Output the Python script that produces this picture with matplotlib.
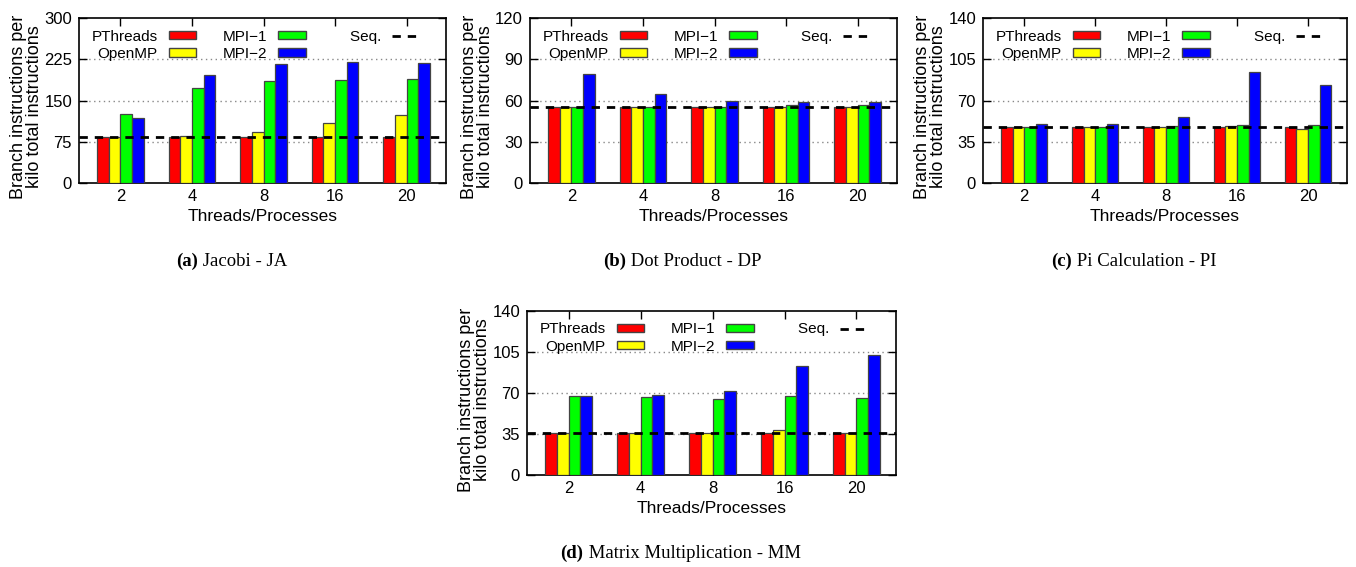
import numpy as np
import matplotlib
matplotlib.use("Agg")
import matplotlib.pyplot as plt
from matplotlib.patches import Patch
from matplotlib.lines import Line2D

threads = ["2", "4", "8", "16", "20"]
series = ["PThreads", "OpenMP", "MPI\u22121", "MPI\u22122"]
colors = ["#ff0000", "#ffff00", "#00ff00", "#0000ff"]

# Jacobi - JA
ja_pthreads = [83, 83, 83, 83, 83]
ja_openmp = [84, 86, 92, 110, 124]
ja_mpi1 = [126, 172, 185, 188, 189]
ja_mpi2 = [118, 196, 216, 220, 218]
ja_seq = 84

# Dot Product - DP
dp_pthreads = [55.3, 55.3, 55.3, 55.3, 55.3]
dp_openmp = [55.3, 55.3, 55.3, 55.3, 55.5]
dp_mpi1 = [55.5, 55.5, 55.6, 56.4, 56.5]
dp_mpi2 = [79.4, 64.6, 59.5, 58.6, 58.8]
dp_seq = 55.4

# Pi Calculation - PI
pi_pthreads = [47.5, 47.5, 47.5, 47.5, 47.5]
pi_openmp = [47.5, 47.5, 47.5, 48.7, 45.6]
pi_mpi1 = [47.5, 47.6, 48.0, 48.8, 49.6]
pi_mpi2 = [50.2, 50.2, 55.8, 94.0, 83.0]
pi_seq = 47.6

# Matrix Multiplication - MM
mm_pthreads = [35.8, 35.8, 35.8, 35.8, 35.8]
mm_openmp = [35.8, 35.8, 35.8, 38.4, 35.8]
mm_mpi1 = [67.4, 66.8, 65.1, 67.7, 65.7]
mm_mpi2 = [67.4, 68.0, 71.4, 93.2, 102.7]
mm_seq = 35.9

panels = [
    ([ja_pthreads, ja_openmp, ja_mpi1, ja_mpi2], ja_seq, 300, 75, "(a)", "Jacobi - JA"),
    ([dp_pthreads, dp_openmp, dp_mpi1, dp_mpi2], dp_seq, 120, 30, "(b)", "Dot Product - DP"),
    ([pi_pthreads, pi_openmp, pi_mpi1, pi_mpi2], pi_seq, 140, 35, "(c)", "Pi Calculation - PI"),
    ([mm_pthreads, mm_openmp, mm_mpi1, mm_mpi2], mm_seq, 140, 35, "(d)", "Matrix Multiplication - MM"),
]

W, H = 1356, 567
# axes boxes in pixels: left, top, right, bottom
boxes = [(79, 18, 446, 183), (530, 18, 897, 183), (983, 18, 1347, 183), (527, 311, 896, 475)]

plt.rcParams['font.family'] = ['Liberation Sans', 'DejaVu Sans']
fig = plt.figure(figsize=(W / 100, H / 100), dpi=100)
renderer = fig.canvas.get_renderer()
serif = ['Liberation Serif', 'DejaVu Serif']

x = np.arange(len(threads))
bw = 0.163
dash = (0, (3, 2.5))

for (vals, seq, ymax, ystep, tag, title), (l, t, r, b) in zip(panels, boxes):
    ax = fig.add_axes([l / W, (H - b) / H, (r - l) / W, (b - t) / H])
    for i, v in enumerate(vals):
        ax.bar(x + (i - 1.5) * bw, v, bw, color=colors[i], edgecolor='#444444', linewidth=0.9, zorder=3)
    ax.axhline(seq, color='black', linestyle=dash, linewidth=2, zorder=4)
    ax.set_xlim(-0.58, 4.55)
    ax.set_ylim(0, ymax)
    yt = np.arange(0, ymax + 1, ystep)
    ax.set_yticks(yt)
    ax.set_xticks(x)
    ax.set_xticklabels(threads)
    for yv in yt[1:-1]:
        ax.axhline(yv, color='#888888', linestyle=(0, (1, 2.5)), linewidth=1, zorder=1)
    ax.tick_params(direction='in', length=6, width=1, top=True, right=True, labelsize=12, pad=5)
    ax.tick_params(axis='x', pad=4)
    for s in ax.spines.values():
        s.set_linewidth(1.2)
    ax.set_xlabel("Threads/Processes", fontsize=12.5, labelpad=4)
    ax.set_ylabel("Branch instructions per\nkilo total instructions", fontsize=13, linespacing=0.95)
    ax.yaxis.set_label_coords(-36 / (r - l), 0.46)

    handles = [Patch(facecolor=colors[0], edgecolor='#444444'),
               Patch(facecolor=colors[1], edgecolor='#444444'),
               Patch(facecolor=colors[2], edgecolor='#444444'),
               Patch(facecolor=colors[3], edgecolor='#444444'),
               Line2D([], [], color='black', linestyle=dash, linewidth=2)]
    labels = series + ["    Seq."]
    leg = ax.legend(handles, labels, ncol=3, loc='upper right', bbox_to_anchor=(341 / (r - l), 0.93),
                    frameon=False, markerfirst=False, fontsize=11, handlelength=1.83, handleheight=0.5,
                    columnspacing=1.75, labelspacing=0.2, handletextpad=0.7, borderpad=0,
                    borderaxespad=0)
    leg.set_zorder(5)

    # caption: bold tag + plain title, centred as one line
    cx = ((l + r) / 2 - 31) / W
    cy = (H - (b + 78)) / H
    t1 = fig.text(0, cy, tag, ha='left', va='center', fontsize=13.5, family=serif, fontweight='bold')
    t2 = fig.text(0, cy, " " + title, ha='left', va='center', fontsize=13.5, family=serif)
    w1 = t1.get_window_extent(renderer).width / W
    w2 = t2.get_window_extent(renderer).width / W
    x0 = cx - (w1 + w2) / 2
    t1.set_x(x0)
    t2.set_x(x0 + w1)

fig.savefig("out.png", dpi=100)
